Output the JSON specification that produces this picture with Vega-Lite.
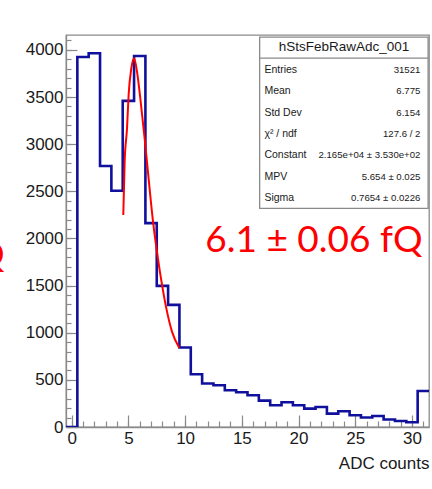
{
  "$schema": "https://vega.github.io/schema/vega-lite/v6.json",
  "width": 363,
  "height": 392,
  "autosize": "none",
  "padding": {"left": 66, "top": 35, "right": 3, "bottom": 62},
  "background": "white",
  "config": {
    "view": {"stroke": "#8a8a8a", "strokeWidth": 1.3},
    "font": "Liberation Sans",
    "axis": {"grid": false, "tickColor": "#8a8a8a", "tickWidth": 1.2, "domainColor": "#8a8a8a", "domainWidth": 1.3}
  },
  "datasets": {
    "hist": [
      {"edge": -0.5, "count": 0},
      {"edge": 0.5, "count": 3925},
      {"edge": 1.5, "count": 3965},
      {"edge": 2.5, "count": 2768},
      {"edge": 3.5, "count": 2506},
      {"edge": 4.5, "count": 3459},
      {"edge": 5.5, "count": 3936},
      {"edge": 6.5, "count": 2163},
      {"edge": 7.5, "count": 1497},
      {"edge": 8.5, "count": 1295},
      {"edge": 9.5, "count": 843},
      {"edge": 10.5, "count": 560},
      {"edge": 11.5, "count": 461},
      {"edge": 12.5, "count": 443},
      {"edge": 13.5, "count": 390},
      {"edge": 14.5, "count": 369},
      {"edge": 15.5, "count": 336},
      {"edge": 16.5, "count": 280},
      {"edge": 17.5, "count": 230},
      {"edge": 18.5, "count": 262},
      {"edge": 19.5, "count": 230},
      {"edge": 20.5, "count": 195},
      {"edge": 21.5, "count": 212},
      {"edge": 22.5, "count": 142},
      {"edge": 23.5, "count": 167},
      {"edge": 24.5, "count": 124},
      {"edge": 25.5, "count": 100},
      {"edge": 26.5, "count": 117},
      {"edge": 27.5, "count": 79},
      {"edge": 28.5, "count": 64},
      {"edge": 29.5, "count": 50},
      {"edge": 30.5, "count": 382},
      {"edge": 31.5, "count": 382}
    ],
    "fit": [
      {"x": 4.55, "v": 2248},
      {"x": 4.67, "v": 2814},
      {"x": 4.88, "v": 3169},
      {"x": 5.02, "v": 3522},
      {"x": 5.26, "v": 3806},
      {"x": 5.5, "v": 3912},
      {"x": 5.76, "v": 3770},
      {"x": 6.05, "v": 3487},
      {"x": 6.43, "v": 3063},
      {"x": 6.78, "v": 2638},
      {"x": 7.14, "v": 2213},
      {"x": 7.52, "v": 1858},
      {"x": 7.97, "v": 1505},
      {"x": 8.41, "v": 1221},
      {"x": 8.85, "v": 1009},
      {"x": 9.49, "v": 839}
    ],
    "stats": [
      {"line": 1, "stat": "Entries", "value": "31521"},
      {"line": 2, "stat": "Mean", "value": "6.775"},
      {"line": 3, "stat": "Std Dev", "value": "6.154"},
      {"line": 4, "stat": "χ² / ndf", "value": "127.6 / 2"},
      {"line": 5, "stat": "Constant", "value": "2.165e+04 ± 3.530e+02"},
      {"line": 6, "stat": "MPV", "value": "5.654 ± 0.025"},
      {"line": 7, "stat": "Sigma", "value": "0.7654 ± 0.0226"}
    ],
    "box": [{"name": "hStsFebRawAdc_001"}],
    "note": [{"text": "6.1 ± 0.06 fQ"}],
    "cut": [{"text": "Q"}]
  },
  "layer": [
    {
      "layer": [
        {
          "data": {"name": "hist"},
          "mark": {"type": "line", "interpolate": "step-after", "color": "#10109c", "strokeWidth": 2.6, "strokeJoin": "miter", "clip": true},
          "encoding": {
            "x": {
              "field": "edge", "type": "quantitative",
              "scale": {"domain": [-0.5, 31.5], "nice": false, "zero": false},
              "axis": {
                "orient": "bottom",
                "values": [0, 5, 10, 15, 20, 25, 30],
                "ticks": false,
                "labelFlush": false,
                "labelFontSize": 17,
                "labelColor": "#1a1a1a",
                "labelPadding": 3,
                "title": "ADC counts",
                "titleAnchor": "end",
                "titleFontSize": 17,
                "titleFontWeight": "normal",
                "titleColor": "#1a1a1a",
                "titlePadding": 9
              }
            },
            "y": {
              "field": "count", "type": "quantitative",
              "scale": {"domain": [0, 4158], "nice": false},
              "axis": {
                "orient": "left",
                "values": [0, 500, 1000, 1500, 2000, 2500, 3000, 3500, 4000],
                "format": "d",
                "ticks": false,
                "labelFlush": false,
                "labelFontSize": 17,
                "labelColor": "#1a1a1a",
                "labelPadding": 3,
                "title": null
              }
            }
          }
        },
        {
          "data": {"name": "fit"},
          "mark": {"type": "line", "interpolate": "monotone", "color": "#ff0000", "strokeWidth": 2},
          "encoding": {
            "x": {
              "field": "x", "type": "quantitative",
              "axis": {"orient": "bottom", "values": [0, 5, 10, 15, 20, 25, 30], "labels": false, "domain": false, "tickSize": -12, "title": null}
            },
            "y": {
              "field": "v", "type": "quantitative",
              "axis": {"orient": "left", "values": [0, 500, 1000, 1500, 2000, 2500, 3000, 3500, 4000], "labels": false, "domain": false, "tickSize": -11, "title": null}
            }
          }
        },
        {
          "data": {"name": "box"},
          "mark": {"type": "rect", "fill": "white", "stroke": "#8a8a8a", "strokeWidth": 1.3},
          "encoding": {
            "x": {"datum": 16.57, "type": "quantitative", "axis": null},
            "x2": {"datum": 31.42},
            "y": {"datum": 2319, "type": "quantitative", "axis": null},
            "y2": {"datum": 4135}
          }
        },
        {
          "data": {"name": "box"},
          "mark": {"type": "rule", "stroke": "#8a8a8a", "strokeWidth": 1.3},
          "encoding": {
            "x": {"datum": 16.57, "type": "quantitative", "axis": null},
            "x2": {"datum": 31.42},
            "y": {"datum": 3912, "type": "quantitative", "axis": null}
          }
        },
        {
          "data": {"name": "box"},
          "mark": {"type": "text", "fontSize": 13.5, "align": "center", "baseline": "middle", "color": "#1a1a1a"},
          "encoding": {
            "x": {"datum": 24.0, "type": "quantitative", "axis": null},
            "y": {"datum": 4032, "type": "quantitative", "axis": null},
            "text": {"field": "name"}
          }
        },
        {
          "data": {"name": "note"},
          "mark": {"type": "text", "font": "Lato", "fontSize": 37, "align": "left", "baseline": "alphabetic", "color": "#ff0000"},
          "encoding": {
            "x": {
              "datum": 11.78, "type": "quantitative",
              "axis": {"orient": "bottom", "values": [0,1,2,3,4,5,6,7,8,9,10,11,12,13,14,15,16,17,18,19,20,21,22,23,24,25,26,27,28,29,30,31], "labels": false, "domain": false, "tickSize": -6, "title": null}
            },
            "y": {
              "datum": 1855, "type": "quantitative",
              "axis": {"orient": "left", "values": [0,100,200,300,400,500,600,700,800,900,1000,1100,1200,1300,1400,1500,1600,1700,1800,1900,2000,2100,2200,2300,2400,2500,2600,2700,2800,2900,3000,3100,3200,3300,3400,3500,3600,3700,3800,3900,4000,4100], "labels": false, "domain": false, "tickSize": -5, "title": null}
            },
            "text": {"field": "text"}
          }
        },
        {
          "data": {"name": "cut"},
          "mark": {"type": "text", "font": "Lato", "fontSize": 37, "align": "right", "baseline": "alphabetic", "color": "#ff0000"},
          "encoding": {
            "x": {"datum": -5.9, "type": "quantitative", "axis": null},
            "y": {"datum": 1700, "type": "quantitative", "axis": null},
            "text": {"field": "text"}
          }
        }
      ],
      "resolve": {"axis": {"x": "independent", "y": "independent"}}
    },
    {
      "data": {"name": "stats"},
      "encoding": {
        "y": {
          "field": "line", "type": "quantitative",
          "scale": {"domain": [-0.6406, 17.734], "reverse": true, "nice": false, "zero": false},
          "axis": null
        }
      },
      "layer": [
        {
          "mark": {"type": "text", "fontSize": 10.5, "align": "left", "baseline": "middle", "color": "#1a1a1a"},
          "encoding": {
            "x": {"datum": 16.99, "type": "quantitative", "axis": null},
            "text": {"field": "stat"}
          }
        },
        {
          "mark": {"type": "text", "fontSize": 9.6, "align": "right", "baseline": "middle", "color": "#1a1a1a"},
          "encoding": {
            "x": {"datum": 30.74, "type": "quantitative", "axis": null},
            "text": {"field": "value"}
          }
        }
      ]
    }
  ],
  "resolve": {"scale": {"y": "independent"}}
}
